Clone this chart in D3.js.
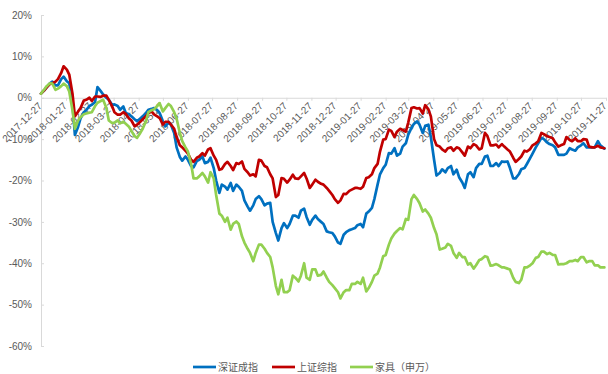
<!DOCTYPE html>
<html><head><meta charset="utf-8">
<script src="https://cdn.jsdelivr.net/npm/d3@7"></script>
<style>
html,body{margin:0;padding:0;background:#fff;}
svg{display:block;}
text{font-family:"Liberation Sans",Arial,"Noto Sans CJK SC",sans-serif;}
</style></head>
<body>
<svg id="chart" width="608" height="374"></svg>
<script>
const dates = [
"2017-12-27","2017-12-31","2018-01-03","2018-01-07","2018-01-10","2018-01-14","2018-01-17","2018-01-21","2018-01-24","2018-01-28",
"2018-01-31","2018-02-04","2018-02-07","2018-02-11","2018-02-14","2018-02-18","2018-02-21","2018-02-25","2018-02-28","2018-03-04",
"2018-03-07","2018-03-11","2018-03-14","2018-03-18","2018-03-21","2018-03-25","2018-03-28","2018-04-01","2018-04-04","2018-04-08",
"2018-04-11","2018-04-15","2018-04-18","2018-04-22","2018-04-25","2018-04-29","2018-05-02","2018-05-06","2018-05-09","2018-05-13",
"2018-05-16","2018-05-20","2018-05-23","2018-05-27","2018-05-30","2018-06-03","2018-06-06","2018-06-10","2018-06-13","2018-06-17",
"2018-06-20","2018-06-24","2018-06-27","2018-07-01","2018-07-04","2018-07-08","2018-07-11","2018-07-15","2018-07-18","2018-07-22",
"2018-07-25","2018-07-29","2018-08-01","2018-08-05","2018-08-08","2018-08-12","2018-08-15","2018-08-19","2018-08-22","2018-08-26",
"2018-08-29","2018-09-02","2018-09-05","2018-09-09","2018-09-12","2018-09-16","2018-09-19","2018-09-23","2018-09-26","2018-09-30",
"2018-10-03","2018-10-07","2018-10-10","2018-10-14","2018-10-17","2018-10-21","2018-10-24","2018-10-28","2018-10-31","2018-11-04",
"2018-11-07","2018-11-11","2018-11-14","2018-11-18","2018-11-21","2018-11-25","2018-11-28","2018-12-02","2018-12-05","2018-12-09",
"2018-12-12","2018-12-16","2018-12-19","2018-12-23","2018-12-26","2018-12-30","2019-01-02","2019-01-06","2019-01-09","2019-01-13",
"2019-01-16","2019-01-20","2019-01-23","2019-01-27","2019-01-30","2019-02-03","2019-02-06","2019-02-10","2019-02-13","2019-02-17",
"2019-02-20","2019-02-24","2019-02-27","2019-03-03","2019-03-06","2019-03-10","2019-03-13","2019-03-17","2019-03-20","2019-03-24",
"2019-03-27","2019-03-31","2019-04-03","2019-04-07","2019-04-10","2019-04-14","2019-04-17","2019-04-21","2019-04-24","2019-04-28",
"2019-05-01","2019-05-05","2019-05-08","2019-05-12","2019-05-15","2019-05-19","2019-05-22","2019-05-26","2019-05-29","2019-06-02",
"2019-06-05","2019-06-09","2019-06-12","2019-06-16","2019-06-19","2019-06-23","2019-06-26","2019-06-30","2019-07-03","2019-07-07",
"2019-07-10","2019-07-14","2019-07-17","2019-07-21","2019-07-24","2019-07-28","2019-07-31","2019-08-04","2019-08-07","2019-08-11",
"2019-08-14","2019-08-18","2019-08-21","2019-08-25","2019-08-28","2019-09-01","2019-09-04","2019-09-08","2019-09-11","2019-09-15",
"2019-09-18","2019-09-22","2019-09-25","2019-09-29","2019-10-02","2019-10-06","2019-10-09","2019-10-13","2019-10-16","2019-10-20",
"2019-10-23","2019-10-27","2019-10-30","2019-11-03","2019-11-06","2019-11-10","2019-11-13","2019-11-17","2019-11-20","2019-11-25"];

// 深证成指 (%)
const szValues = [
1.0,1.8,2.5,3.5,3.9,3.0,3.0,4.5,5.1,4.0,
3.5,-1.5,-9.0,-7,-5.0,-3.5,-3.0,-2.0,-1.7,-1.0,
2.6,1.6,0.8,0,-0.5,-1.7,-1.6,-2.0,-2.9,-2.1,
-3.7,-4.0,-4.5,-5.2,-5.7,-5.0,-4.5,-3.7,-2.9,-2.7,
-2.5,-3.0,-3.7,-5.7,-6.9,-6.0,-6.5,-8.5,-12,-14.3,
-15.2,-14.2,-15,-16.5,-16.8,-15.3,-15,-14.2,-15.8,-15.5,
-14.5,-17,-20,-23,-21,-21.5,-22.2,-20.6,-22.5,-21,
-21.5,-22.5,-24.8,-26.3,-27.3,-26,-24.5,-23.8,-24.5,-26,
-25.6,-25.4,-30,-32.7,-34.5,-31.5,-30.3,-31.5,-30.5,-28.5,
-28.5,-29,-27.3,-26.8,-28.8,-30.7,-29.5,-28.5,-29.3,-30,
-30.5,-32.3,-32.5,-32.7,-33.5,-35,-35.3,-33.1,-32.5,-32,
-31.8,-31.5,-30.8,-30.5,-31.3,-28,-27.5,-26.6,-24.5,-21,
-18.5,-17,-16.2,-13.4,-13.5,-12.2,-14,-13.5,-11.8,-11,
-8.9,-7.3,-6.3,-5.7,-6.5,-8.5,-6.8,-6.5,-9.5,-15,
-18.8,-18.2,-17.3,-18,-17,-16.5,-18.5,-17.4,-19.2,-20.5,
-21.8,-18.5,-18,-19.2,-17,-16,-16,-14.2,-14,-16.5,
-16.5,-15.8,-16.5,-15.4,-15.5,-15.4,-17,-19.5,-19.5,-18.5,
-17.3,-17,-16,-14.6,-13.5,-12,-11,-9.7,-10,-10.8,
-11.2,-11.5,-12,-13.8,-13.8,-13.8,-13.5,-12.2,-12.5,-12.8,
-12,-11.5,-11,-12,-12,-12,-12,-10.5,-11.5,-12.3];

// 上证综指 (%)
const shValues = [
1.0,1.8,2.5,3.3,3.5,3.9,4.5,6.0,7.6,6.8,
5.6,1.0,-4.5,-3.3,-2.5,-0.7,-0.5,0,-0.8,0.3,
0.3,0.2,0.5,0.5,-0.5,-2.0,-3.5,-4.1,-4.1,-3.5,
-3.9,-5.0,-5.5,-6.9,-6.5,-5.8,-5.2,-4.5,-3.8,-3.3,
-4.0,-4.5,-4.9,-6.5,-5.8,-5.8,-6.5,-7.5,-9.5,-11.5,
-12,-12.8,-13.5,-15,-15.5,-14.5,-14.2,-13.4,-14,-12.5,
-12.2,-14,-15,-17.4,-17.2,-16,-15.5,-16.5,-17.5,-15.8,
-16,-15.4,-17.2,-18,-18.8,-18.5,-19,-15,-15.2,-16.5,
-16.8,-18.5,-19.5,-24,-23.5,-19.4,-19.6,-20.5,-19.8,-18.6,
-19.5,-19.6,-19,-18.2,-19.5,-21.8,-21,-19.8,-20.3,-20.8,
-21,-21.8,-22.5,-23.5,-24.5,-25.4,-24.8,-23.2,-23.3,-22.5,
-22.2,-21.8,-21.8,-22,-21.5,-19.4,-19.2,-18.5,-17,-16,
-13,-10.1,-10,-7.7,-8,-9.5,-8.2,-7.5,-7.8,-8.2,
-6,-2.5,-2.3,-2.6,-2.5,-3.8,-1.8,-2.8,-4.5,-10,
-11.5,-11.8,-12.5,-13,-12.2,-12,-12.8,-12,-12.2,-13.2,
-14.0,-11.8,-12.2,-11.2,-11.5,-12.5,-12.2,-8.5,-9.2,-11.5,
-11.5,-11.3,-12,-11.2,-11.8,-12.5,-13,-14.5,-15.5,-14.8,
-14.2,-12.8,-13,-12.4,-11.5,-11,-10.5,-8.5,-8.8,-9.3,
-9.5,-9.8,-10.8,-11.8,-11.5,-11.2,-9.5,-10.2,-10.5,-9.8,
-10.5,-10.5,-10.0,-10.1,-11.8,-12,-12,-11.6,-12,-12.2];

// 家具（申万） (%)
const furnValues = [
1.0,2.0,2.8,3.5,3.4,1.9,2.2,2.8,3.4,2.8,
1.5,-3,-7.5,-5.5,-4.7,-4.0,-3.8,-3.6,-3.5,-2.0,
-1.2,-0.8,-0.5,-2.5,-5.5,-6.1,-6.0,-5.5,-6.2,-5.8,
-6.3,-7.0,-8.0,-9.3,-9.7,-8.5,-7.5,-5.7,-3.5,-3.0,
-2.8,-2.0,-1.3,-3.3,-2.5,-1.5,-2.0,-3.5,-5.0,-8.5,
-10.5,-12,-13.0,-16,-19.5,-19.5,-19.0,-18.2,-19,-20.5,
-18,-19.5,-23.5,-28,-28.5,-30,-29,-31.9,-30.5,-29.9,
-30.5,-33.5,-35,-36.5,-37.5,-39.5,-37.5,-35.5,-35.5,-36.5,
-37.5,-38.5,-41,-45.5,-47.5,-44,-47,-47,-46.5,-43,
-43.5,-44.4,-43,-40,-43.5,-44,-41.5,-41.5,-43,-42.8,
-42,-43.5,-44.5,-45.3,-46,-47,-48.5,-47,-46.5,-46.5,
-45,-45,-44.5,-45,-43.5,-46.8,-46,-44.5,-43,-42.5,
-41,-38.3,-38,-35.5,-34,-32.8,-32.2,-31.5,-31.8,-29.3,
-29.5,-24.5,-23.5,-24.5,-25.5,-27.5,-27,-28,-29,-31.5,
-33,-36.7,-36.5,-36.2,-35.3,-35.8,-37.5,-38.7,-37.5,-38.5,
-38.5,-40.3,-40,-41.3,-40.5,-39.2,-39,-38.3,-38.5,-40.6,
-40.5,-40.2,-40.5,-41,-41,-41.3,-41.5,-43.5,-44.5,-44.8,
-44,-41,-41,-40.5,-40,-38.7,-38.5,-37.2,-37.2,-37.8,
-37.5,-38,-38,-40.3,-40.2,-40.2,-40,-39.5,-39.5,-39.2,
-39.5,-38.5,-38.5,-39.8,-39.5,-39.5,-40.5,-40.5,-41,-41];

const seriesNames = ["深证成指","上证综指","家具（申万）"];
const seriesColors = ["#0070C0","#C00000","#92D050"];
const yTicks = [20,10,0,-10,-20,-30,-40,-50,-60];
const xTickLabels = ["2017-12-27","2018-01-27","2018-02-27","2018-03-27","2018-04-27","2018-05-27","2018-06-27","2018-07-27",
"2018-08-27","2018-09-27","2018-10-27","2018-11-27","2018-12-27","2019-01-27","2019-02-27","2019-03-27","2019-04-27",
"2019-05-27","2019-06-27","2019-07-27","2019-08-27","2019-09-27","2019-10-27","2019-11-27"];

const parse = d3.timeParse("%Y-%m-%d");
const svg = d3.select("#chart");
const x = d3.scaleTime().domain([parse("2017-12-27"), parse("2019-11-27")]).range([41, 606]);
const y = d3.scaleLinear().domain([-60, 20]).range([346, 15]);

// Y axis
const yAxis = svg.append("g").attr("transform","translate(41,0)")
  .call(d3.axisLeft(y).tickValues(yTicks).tickFormat(d => d + "%").tickSizeInner(-3).tickSizeOuter(0).tickPadding(9));
yAxis.select(".domain").attr("stroke","#d9d9d9");
yAxis.selectAll(".tick line").attr("stroke","#d9d9d9");
yAxis.selectAll("text").attr("fill","#595959").style("font-size","10px");

// X axis at 0%
const xAxis = svg.append("g").attr("transform",`translate(0,${y(0)})`)
  .call(d3.axisBottom(x).tickValues(xTickLabels.map(parse)).tickFormat(d3.timeFormat("%Y-%m-%d")).tickSizeInner(3).tickSizeOuter(0));
xAxis.select(".domain").attr("stroke","#d9d9d9");
xAxis.selectAll(".tick line").attr("stroke","#d9d9d9");
xAxis.selectAll("text").attr("fill","#595959").style("font-size","10px")
  .attr("text-anchor","end").attr("dy","0.3em").attr("dx","-0.55em")
  .attr("transform","rotate(-45)").attr("y",4).attr("x",0);

const line = d3.line().x((d,i) => x(parse(dates[i]))).y(d => y(d));
[szValues, shValues, furnValues].forEach((vals, k) => {
  svg.append("path").datum(vals).attr("d", line).attr("fill","none")
    .attr("stroke", seriesColors[k]).attr("stroke-width", 2.7)
    .attr("stroke-linejoin","round").attr("stroke-linecap","round");
});

// Legend
const legendX = [193, 272, 350];
seriesNames.forEach((n, k) => {
  const g = svg.append("g").attr("transform", `translate(${legendX[k]},367)`);
  g.append("line").attr("x1",0).attr("x2",23).attr("y1",0).attr("y2",0)
    .attr("stroke", seriesColors[k]).attr("stroke-width", 2.7);
  g.append("text").attr("x",25).attr("y",0).attr("dy","0.35em")
    .attr("fill","#595959").style("font-size","10px")
    .style("font-family","'Noto Sans CJK SC',sans-serif").text(n);
});
</script>
</body></html>
